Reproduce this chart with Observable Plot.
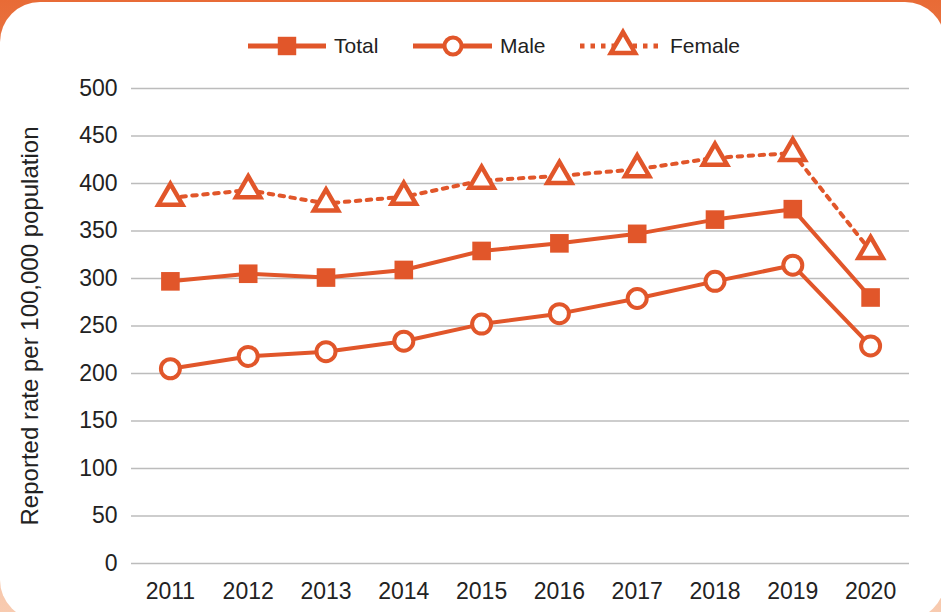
<!DOCTYPE html>
<html>
<head>
<meta charset="utf-8">
<script src="https://cdn.jsdelivr.net/npm/d3@7"></script>
<script src="https://cdn.jsdelivr.net/npm/@observablehq/plot@0.6"></script>
<style>
  html, body { margin: 0; padding: 0; }
  body { width: 941px; height: 612px; overflow: hidden; background: linear-gradient(#e86b36 0%, #f0a07a 50%, #f8cbb0 100%); font-family: "Liberation Sans", Arial, sans-serif; }
  #wrap { position: relative; width: 941px; height: 612px; overflow: hidden; }
  #card { position: absolute; left: 0; top: 2px; width: 945px; height: 618px; background: #fff; border-radius: 40px; }
  #chart { position: absolute; left: 0; top: 0; }
  #legend { position: absolute; left: 0; top: 0; }
</style>
</head>
<body>
<div id="wrap">
  <div id="card"></div>
  <div id="chart"></div>
  <svg id="legend" width="941" height="80"></svg>
</div>
<script>
const years = ["2011","2012","2013","2014","2015","2016","2017","2018","2019","2020"];
const seriesNames = ["Total", "Male", "Female"];
const totalValues  = [297, 305, 301, 309, 329, 337, 347, 362, 373, 280];
const maleValues   = [205, 218, 223, 234, 252, 263, 279, 297, 314, 229];
const femaleValues = [385, 393, 379, 386, 403, 408, 415, 427, 432, 329];
const yTicks = [0, 50, 100, 150, 200, 250, 300, 350, 400, 450, 500];
const yLabel = "Reported rate per 100,000 population";

const C = "#e1562a";
const rows = (vals) => years.map((yr, i) => ({year: yr, value: vals[i]}));
const total = rows(totalValues), male = rows(maleValues), female = rows(femaleValues);

const chart = Plot.plot({
  width: 941,
  height: 612,
  marginTop: 88,
  marginBottom: 49,
  marginLeft: 131,
  marginRight: 32,
  style: {fontSize: "23px", fontFamily: "Liberation Sans, Arial, sans-serif", color: "#222", background: "transparent", overflow: "visible"},
  x: {type: "point", domain: years, padding: 0.5, round: false},
  y: {domain: [0, 500]},
  marks: [
    Plot.gridY(yTicks, {stroke: "#bcbcbc", strokeOpacity: 1, strokeWidth: 1.5}),
    Plot.axisY(yTicks, {tickSize: 0, tickPadding: 14, label: null, fill: "#222"}),
    Plot.text([yLabel], {frameAnchor: "left", textAnchor: "middle", dx: -101, rotate: -90, fontSize: 24, fill: "#222"}),
    Plot.axisX({tickSize: 0, tickPadding: 19, label: null, fill: "#222"}),
    Plot.line(female, {x: "year", y: "value", stroke: C, strokeWidth: 4, strokeDasharray: "4.5,6.5"}),
    Plot.line(total, {x: "year", y: "value", stroke: C, strokeWidth: 4}),
    Plot.line(male, {x: "year", y: "value", stroke: C, strokeWidth: 4}),
    Plot.dot(total, {x: "year", y: "value", symbol: "square", r: 10.5, fill: C, stroke: "none"}),
    Plot.dot(male, {x: "year", y: "value", symbol: "circle", r: 9.5, fill: "#fff", stroke: C, strokeWidth: 4}),
    Plot.dot(female, {x: "year", y: "value", symbol: "triangle", r: 9, fill: "#fff", stroke: C, strokeWidth: 4.5})
  ]
});
document.getElementById("chart").appendChild(chart);

// Legend
const lg = d3.select("#legend");
const items = [
  {name: seriesNames[0], x0: 248, x1: 326, cx: 287, tx: 334, dash: null, sym: d3.symbolSquare, size: 340, fill: C, sw: 0},
  {name: seriesNames[1], x0: 413, x1: 492, cx: 453, tx: 500, dash: null, sym: d3.symbolCircle, size: Math.PI * 8.5 * 8.5, fill: "#fff", sw: 4},
  {name: seriesNames[2], x0: 580, x1: 660, cx: 623, tx: 670, dash: "4.5,6", sym: d3.symbolTriangle, size: Math.PI * 9 * 9, fill: "#fff", sw: 4.5}
];
const ly = 46;
for (const it of items) {
  lg.append("line").attr("x1", it.x0).attr("x2", it.x1).attr("y1", ly).attr("y2", ly)
    .attr("stroke", C).attr("stroke-width", 5).attr("stroke-dasharray", it.dash);
  lg.append("path").attr("d", d3.symbol(it.sym, it.size)())
    .attr("transform", `translate(${it.cx},${ly})`)
    .attr("fill", it.fill).attr("stroke", it.sw ? C : "none").attr("stroke-width", it.sw);
  lg.append("text").attr("x", it.tx).attr("y", ly).attr("dy", "0.35em")
    .attr("font-size", 21).attr("font-family", "Liberation Sans, Arial, sans-serif")
    .attr("fill", "#222").text(it.name);
}
</script>
</body>
</html>
